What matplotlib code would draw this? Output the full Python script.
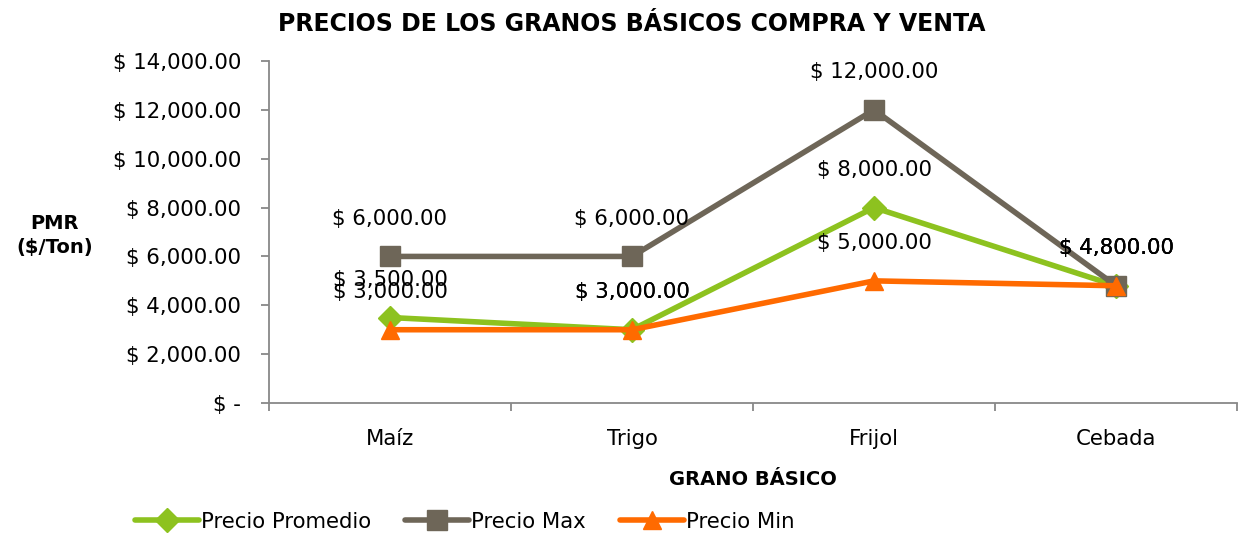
import matplotlib
matplotlib.use("Agg")
import matplotlib.pyplot as plt
from matplotlib.ticker import FuncFormatter, FixedLocator

categories = ["Maíz", "Trigo", "Frijol", "Cebada"]
precio_promedio = [3500, 3000, 8000, 4800]
precio_max = [6000, 6000, 12000, 4800]
precio_min = [3000, 3000, 5000, 4800]
series_names = ["Precio Promedio", "Precio Max", "Precio Min"]
y_ticks = [0, 2000, 4000, 6000, 8000, 10000, 12000, 14000]

plt.rcParams['font.family'] = ['DejaVu Sans']

fig = plt.figure(figsize=(12.44, 5.35), dpi=100)
ax = fig.add_axes([0.2162, 0.2467, 0.7782, 0.6393])

x = list(range(len(categories)))
styles = [
    (precio_promedio, "#8DC21F", "D", 12),
    (precio_max, "#6E6658", "s", 14),
    (precio_min, "#FF6A00", "^", 13),
]
FS = 15.3
for i, (vals, col, mk, ms) in enumerate(styles):
    ax.plot(x, vals, color=col, lw=4.0, marker=mk, markersize=ms,
            label=series_names[i], zorder=3 + i, solid_capstyle='round')
    for xi, v in zip(x, vals):
        ax.annotate(f"$ {v:,.2f}", (xi, v), xytext=(0, 27), textcoords='offset points',
                    ha='center', va='center', fontsize=FS, color='black', zorder=10)

ax.set_xlim(-0.5, len(categories) - 0.5)
ax.set_ylim(0, 14000)
ax.yaxis.set_major_locator(FixedLocator(y_ticks))
ax.yaxis.set_major_formatter(FuncFormatter(lambda v, p: "$ -" if v == 0 else f"$ {v:,.2f}"))
ax.set_xticks(x)
ax.set_xticklabels(categories)
ax.set_xticks([i - 0.5 for i in range(len(categories) + 1)], minor=True)
ax.tick_params(axis='x', which='major', length=0, pad=19, labelsize=FS)
ax.tick_params(axis='x', which='minor', length=6, color='#888888', width=1.3)
ax.tick_params(axis='y', length=6, color='#888888', width=1.3, labelsize=FS, pad=14)

for s in ['top', 'right']:
    ax.spines[s].set_visible(False)
for s in ['left', 'bottom']:
    ax.spines[s].set_color('#888888')
    ax.spines[s].set_linewidth(1.3)

fig.text(0.508, 0.955, "PRECIOS DE LOS GRANOS BÁSICOS COMPRA Y VENTA", ha='center', va='center',
         fontsize=17, fontweight='bold')
fig.text(0.044, 0.56, "PMR\n($/Ton)", ha='center', va='center', fontsize=14, fontweight='bold',
         linespacing=1.3)
fig.text(0.605, 0.103, "GRANO BÁSICO", ha='center', va='center', fontsize=14, fontweight='bold')

leg = fig.legend(loc='center left', bbox_to_anchor=(0.102, 0.025), ncol=3, frameon=False,
                 fontsize=FS, handlelength=3.0, handletextpad=0.1, columnspacing=1.6,
                 borderaxespad=0)

fig.savefig("out.png", dpi=100)
